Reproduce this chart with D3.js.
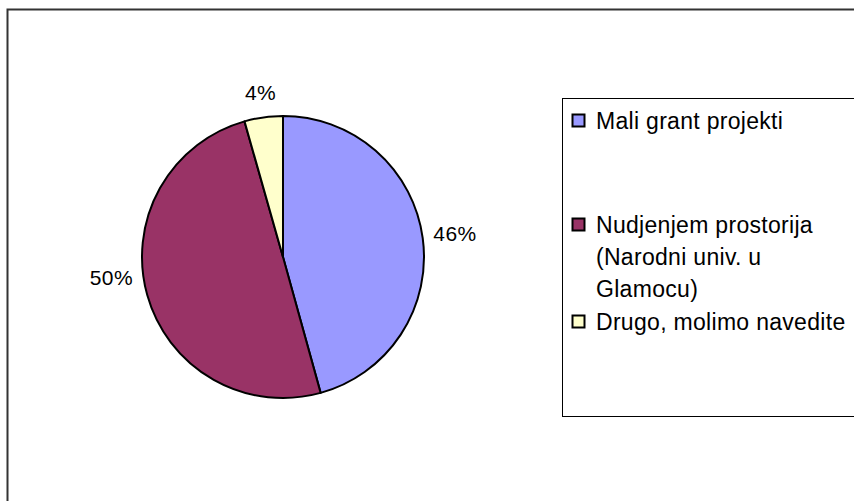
<!DOCTYPE html>
<html>
<head>
<meta charset="utf-8">
<script src="https://cdn.jsdelivr.net/npm/d3@7"></script>
<style>
  html, body { margin: 0; padding: 0; background: #fff; }
  svg { display: block; font-family: Arial, "Liberation Sans", sans-serif; }
</style>
</head>
<body>
<svg id="chart" width="854" height="501"></svg>
<script>
const categories = ["Mali grant projekti", "Nudjenjem prostorija (Narodni univ. u Glamocu)", "Drugo, molimo navedite"];
const legendLines = [["Mali grant projekti"], ["Nudjenjem prostorija", "(Narodni univ. u", "Glamocu)"], ["Drugo, molimo navedite"]];
const values = [45.7, 49.9, 4.4];
const pctLabels = ["46%", "50%", "4%"];
const colors = ["#9999FF", "#993366", "#FFFFCC"];

const svg = d3.select("#chart");

// outer chart border (extends past the view on right/bottom)
svg.append("rect")
  .attr("x", 7.5).attr("y", 9.5)
  .attr("width", 900).attr("height", 600)
  .attr("fill", "#fff").attr("stroke", "#333").attr("stroke-width", 2);

const cx = 283, cy = 257, r = 141;
const pie = d3.pie().sort(null).value(d => d);
const arcs = pie(values);
const arc = d3.arc().innerRadius(0).outerRadius(r);

const g = svg.append("g").attr("transform", `translate(${cx},${cy})`);
g.selectAll("path.slice").data(arcs).join("path")
  .attr("class", "slice")
  .attr("d", arc)
  .attr("fill", (d, i) => colors[i])
  .attr("stroke", "#000").attr("stroke-width", 2).attr("stroke-linejoin", "round");

// percentage labels outside the pie
const fs = 21;
const labelOffsets = [[0, 0], [-4, -26], [0, -2]];
g.selectAll("text.pct").data(arcs).join("text")
  .attr("class", "pct")
  .attr("font-size", fs)
  .attr("letter-spacing", 0.4)
  .attr("text-anchor", "middle")
  .attr("dominant-baseline", "central")
  .each(function (d, i) {
    const a = (d.startAngle + d.endAngle) / 2;
    const hw = pctLabels[i].length * 6.2, hh = 8;
    const R = r + 13 + hw * Math.abs(Math.sin(a)) + hh * Math.abs(Math.cos(a));
    d3.select(this)
      .attr("x", R * Math.sin(a) + labelOffsets[i][0])
      .attr("y", -R * Math.cos(a) + labelOffsets[i][1])
      .text(pctLabels[i]);
  });

// legend
const legend = svg.append("g");
legend.append("rect")
  .attr("x", 562.5).attr("y", 98.5)
  .attr("width", 400).attr("height", 318)
  .attr("fill", "#fff").attr("stroke", "#000").attr("stroke-width", 1);

const itemBaselines = [129, 233, 330];
const lineGap = 32;
const lfs = 23;
legendLines.forEach((lines, i) => {
  const y0 = itemBaselines[i];
  legend.append("rect")
    .attr("x", 572.5).attr("y", y0 - 14.5)
    .attr("width", 12).attr("height", 12)
    .attr("fill", colors[i]).attr("stroke", "#000").attr("stroke-width", 2);
  lines.forEach((t, j) => {
    legend.append("text")
      .attr("x", 596).attr("y", y0 + j * lineGap)
      .attr("font-size", lfs)
      .attr("letter-spacing", 0.3)
      .attr("fill", "#000")
      .text(t);
  });
});
</script>
</body>
</html>
